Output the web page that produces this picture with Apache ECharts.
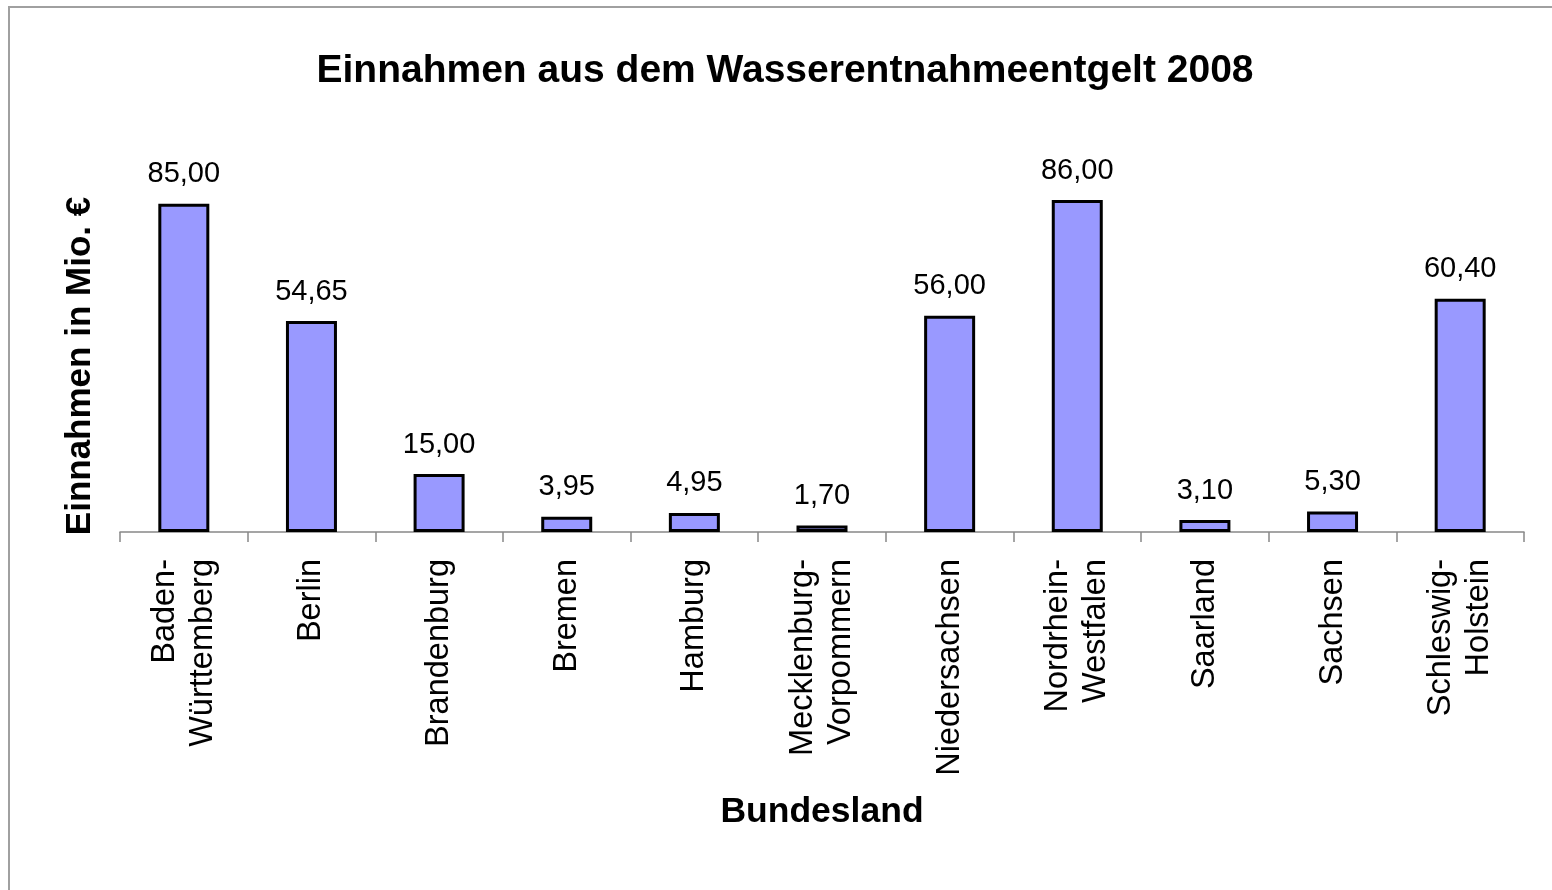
<!DOCTYPE html>
<html>
<head>
<meta charset="utf-8">
<script src="https://cdn.jsdelivr.net/npm/echarts@6/dist/echarts.min.js"></script>
<style>html,body{margin:0;padding:0;background:#fff;}#c{width:1552px;height:890px;}</style>
</head>
<body>
<div id="c"></div>
<script>
const categories = ['Baden-\nWürttemberg','Berlin','Brandenburg','Bremen','Hamburg','Mecklenburg-\nVorpommern','Niedersachsen','Nordrhein-\nWestfalen','Saarland','Sachsen','Schleswig-\nHolstein'];
const values = [85.00, 54.65, 15.00, 3.95, 4.95, 1.70, 56.00, 86.00, 3.10, 5.30, 60.40];
const titleText = 'Einnahmen aus dem Wasserentnahmeentgelt 2008';
const xName = 'Bundesland';
const yName = 'Einnahmen in Mio. €';

const FONT = '"Liberation Sans", Arial, sans-serif';
const chart = echarts.init(document.getElementById('c'), null, {renderer: 'canvas'});
chart.setOption({
  backgroundColor: '#ffffff',
  animation: false,
  graphic: [{
    type: 'rect', silent: true,
    shape: {x: 9, y: 7, width: 1600, height: 1000},
    style: {fill: 'none', stroke: '#a0a0a0', lineWidth: 2}
  }],
  title: {
    text: titleText,
    left: 780, top: 47, textAlign: 'center',
    textStyle: {fontFamily: FONT, fontSize: 39, fontWeight: 'bold', color: '#000'}
  },
  grid: {left: 120, right: 28, top: 200, bottom: 358, containLabel: false},
  xAxis: {
    type: 'category',
    data: categories,
    name: xName,
    nameLocation: 'middle',
    nameGap: 262,
    nameTextStyle: {fontFamily: FONT, fontSize: 35.5, fontWeight: 'bold', color: '#000'},
    axisLine: {show: true, lineStyle: {color: '#888', width: 1.5}},
    axisTick: {show: true, length: 10, lineStyle: {color: '#888', width: 1.5}},
    axisLabel: {
      rotate: 90, margin: 27, interval: 0,
      fontFamily: FONT, fontSize: 32.5, color: '#000', lineHeight: 38
    }
  },
  yAxis: {
    type: 'value', min: 0, max: 86,
    name: yName,
    nameLocation: 'middle',
    nameGap: 22,
    nameTextStyle: {fontFamily: FONT, fontSize: 35, fontWeight: 'bold', color: '#000'},
    axisLine: {show: false}, axisTick: {show: false},
    axisLabel: {show: false}, splitLine: {show: false}
  },
  series: [{
    type: 'bar',
    data: values,
    barWidth: 51,
    itemStyle: {color: '#9999ff', borderColor: '#000', borderWidth: 3},
    label: {
      show: true, position: 'top', distance: 15,
      fontFamily: FONT, fontSize: 29, color: '#000',
      formatter: p => p.value.toFixed(2).replace('.', ',')
    }
  }]
});
</script>
</body>
</html>
